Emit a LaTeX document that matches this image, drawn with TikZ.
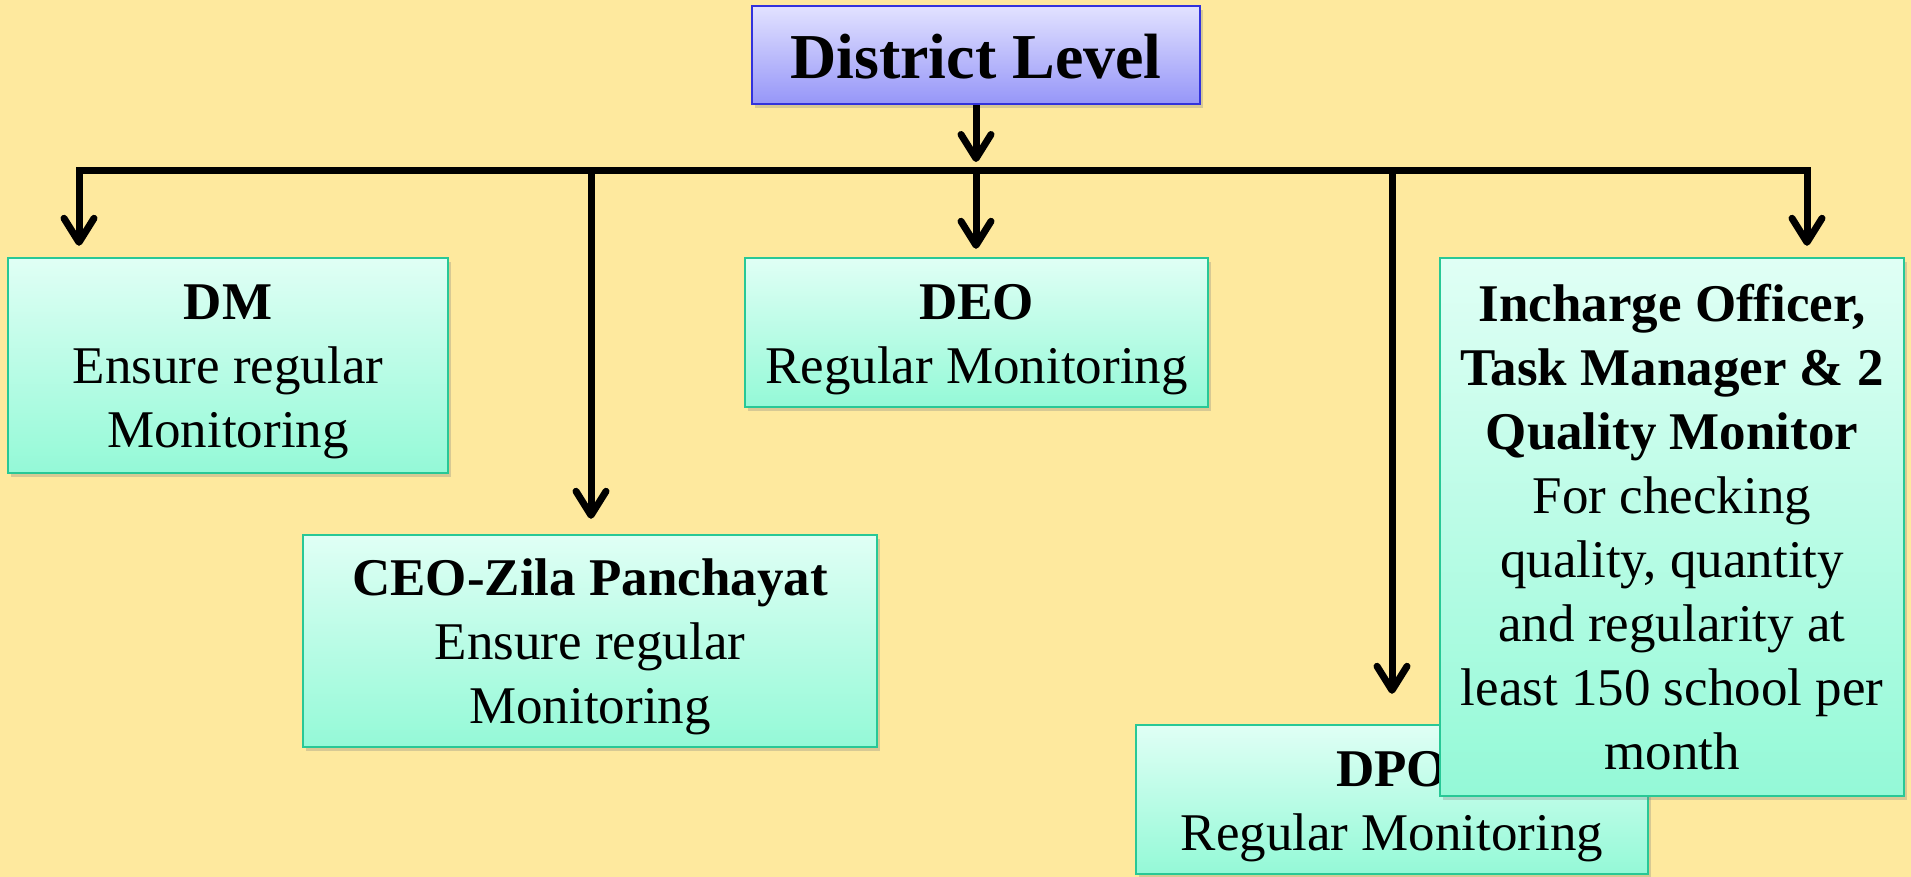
\documentclass[tikz,border=0pt]{standalone}
\usepackage{fontspec}
\setmainfont{Liberation Serif}
\usetikzlibrary{arrows.meta,shadows}
\definecolor{bg}{RGB}{254,233,158}
\definecolor{boxtop}{RGB}{224,255,245}
\definecolor{boxbot}{RGB}{148,249,215}
\definecolor{boxedge}{RGB}{40,200,150}
\definecolor{dtop}{RGB}{226,226,255}
\definecolor{dbot}{RGB}{150,150,248}
\definecolor{dedge}{RGB}{50,50,220}
\newcommand\tdn[1]{\rule{0pt}{#1}}
\begin{document}
\begin{tikzpicture}[x=0.5pt,y=-0.5pt,
  box/.style={draw=boxedge, line width=1.2pt, top color=boxtop, bottom color=boxbot,
    align=center, inner sep=0pt, font=\fontsize{26.5}{32}\selectfont,
    drop shadow={shadow xshift=1.5pt, shadow yshift=-2pt, opacity=0.3}},
  dbox/.style={draw=dedge, line width=1.2pt, top color=dtop, bottom color=dbot,
    align=center, inner sep=0pt, font=\fontsize{32}{38}\selectfont\bfseries,
    drop shadow={shadow xshift=1.5pt, shadow yshift=-2pt, opacity=0.3}},
  conn/.style={line width=3.5pt, line join=miter, black,
    arrows={-{Straight Barb[length=12pt,width=15pt,round]}}},
  connboth/.style={line width=3.5pt, line join=miter, black,
    arrows={{Straight Barb[length=12pt,width=15pt,round]}-{Straight Barb[length=12pt,width=15pt,round]}}}
]
\fill[bg] (0,0) rectangle (1911,877);
\useasboundingbox (0,0) rectangle (1911,877);

\node[dbox, minimum width=224pt, minimum height=49pt] (district) at (976,55) {\tdn{24pt}District Level};
\node[box, minimum width=220pt, minimum height=107.5pt] (dm) at (228,365.5) {\tdn{24pt}\textbf{DM}\\Ensure regular\\Monitoring};
\node[box, minimum width=231.5pt, minimum height=74.5pt] (deo) at (976.5,332.5) {\tdn{24.5pt}\textbf{DEO}\\Regular Monitoring};
\node[box, minimum width=287pt, minimum height=106pt] (ceo) at (590,641) {\tdn{24.5pt}\textbf{CEO-Zila Panchayat}\\Ensure regular\\Monitoring};
\node[box, minimum width=256pt, minimum height=74.5pt] (dpo) at (1392,799.5) {\tdn{24.5pt}\textbf{DPO}\\Regular Monitoring};
\node[box, minimum width=232pt, minimum height=269pt] (inch) at (1672,527) {\textbf{Incharge Officer,}\\\textbf{Task Manager \& 2}\\\textbf{Quality Monitor}\\For checking\\quality, quantity\\and regularity at\\least 150 school per\\month};

\coordinate (b1) at (79,171);
\coordinate (b2) at (591,171);
\coordinate (b3) at (976,171);
\coordinate (b4) at (1392,171);
\coordinate (b5) at (1807,171);

\draw[conn] (district.south) -- ([yshift=4.5pt]b3);
\draw[connboth] ([yshift=5.5pt]b1 |- dm.north) -- (b1) -- (b5) -- ([yshift=5.5pt]b5 |- inch.north);
\draw[conn] (b2) -- ([yshift=7.5pt]b2 |- ceo.north);
\draw[conn] (b3) -- ([yshift=4pt]b3 |- deo.north);
\draw[conn] (b4) -- ([yshift=15pt]b4 |- dpo.north);
\end{tikzpicture}
\end{document}
